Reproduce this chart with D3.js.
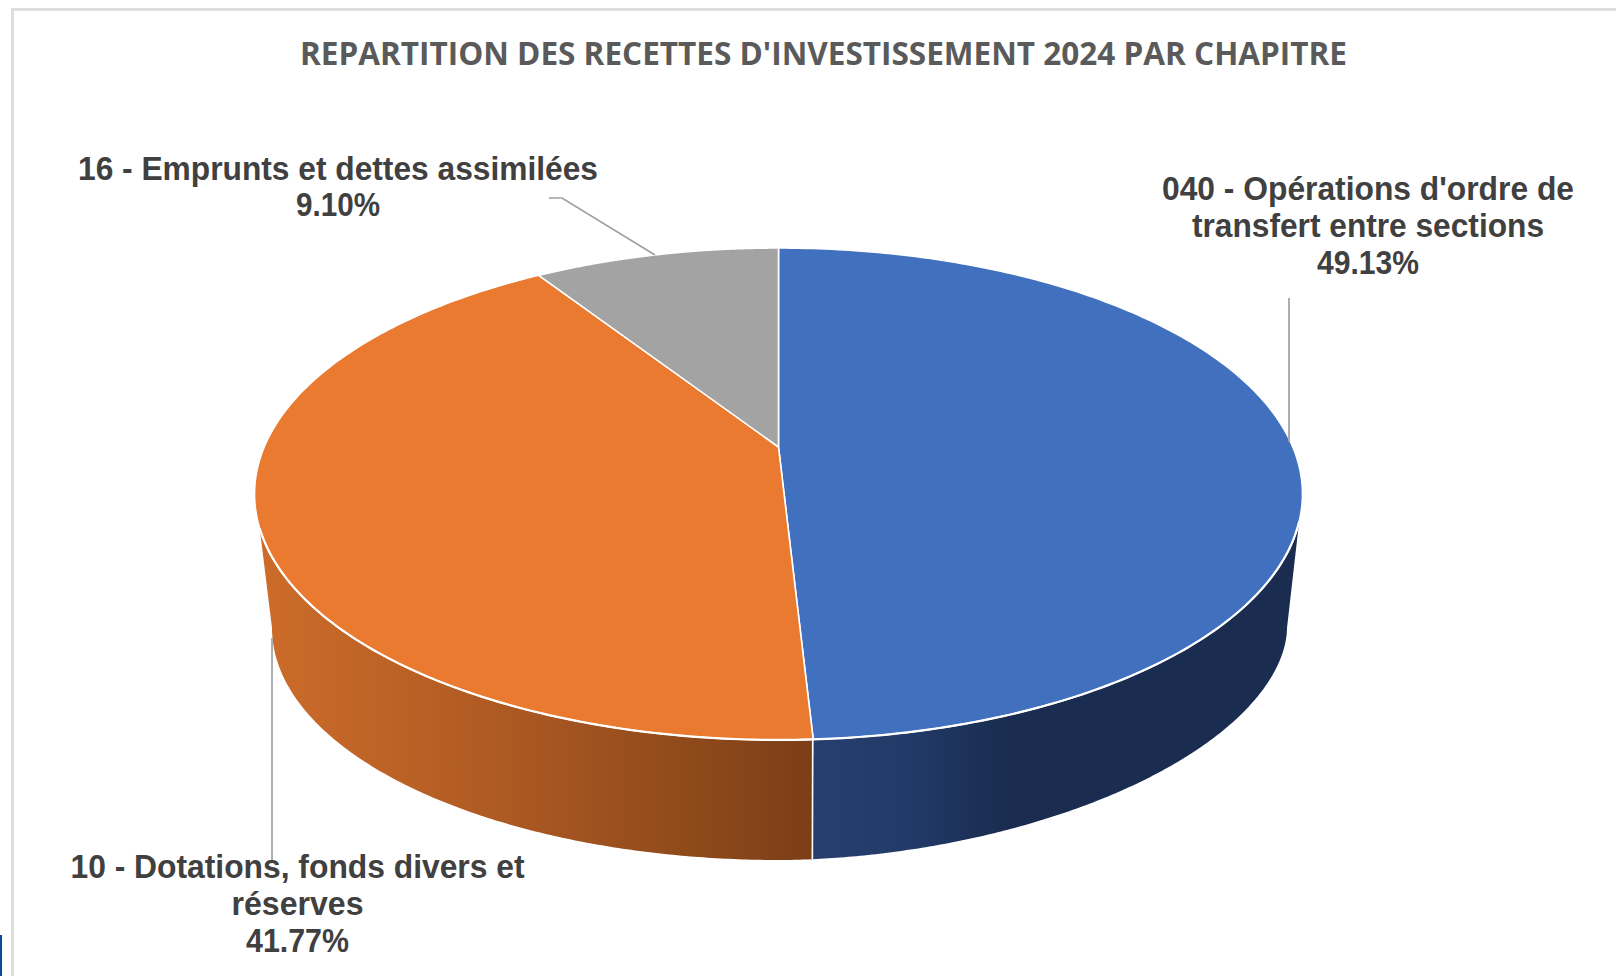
<!DOCTYPE html>
<html><head><meta charset="utf-8">
<script src="https://cdn.jsdelivr.net/npm/d3@7"></script>
<style>html,body{margin:0;padding:0;background:#fff;overflow:hidden}svg{display:block}</style>
</head><body><div id="c"></div>
<script>
const titleText = "REPARTITION DES RECETTES D'INVESTISSEMENT 2024 PAR CHAPITRE";
const categories = ["040 - Opérations d'ordre de transfert entre sections","10 - Dotations, fonds divers et réserves","16 - Emprunts et dettes assimilées"];
const values = [49.13,41.77,9.10];
const valueLabels = ["49.13%","41.77%","9.10%"];
const topColors = ["#4170BE","#E97A2F","#A3A3A3"];

const W=1616,H=976;
const svg=d3.select("#c").append("svg").attr("width",W).attr("height",H);
const defs=svg.append("defs");

// page furniture
svg.append("rect").attr("x",0).attr("y",935).attr("width",2).attr("height",41).attr("fill","#0A4A94");
svg.append("path").attr("d",`M${W},9.5 H12.5 V${H}`).attr("fill","none").attr("stroke","#DEDEDE").attr("stroke-width",3);

// perspective projection of the pie's two discs
function projector(cx,R,A,B,c){
  return (th)=>{const u=Math.sin(th),v=-Math.cos(th),d=1+c*v;return [cx+R*u/d,(A+B*v)/d];};
}
const topP=projector(778.5,514.3,447,151.6,-0.191);
const botBase=projector(779.5,500.1,588.6,125.2,-0.17);
// the lower right of the reference's base is slightly flatter than an ellipse
const botP=(th)=>{
  const [x,y]=botBase(th);
  if(x<=779.5||y<=628) return [x,y];
  const a=(x-779.5)/507.5,b=(y-628)/232,p=1.85;
  const r=1/Math.pow(Math.pow(a,p)+Math.pow(b,p),1/p);
  return [779.5+a*r*507.5,628+b*r*232];
};

const arcs=d3.pie().sort(null).value(d=>d)(values);
const samples=(a,b)=>d3.range(0,201).map(i=>a+(b-a)*i/200);
const line=d3.line();

// visible side: silhouette angles
const thTopR=Math.PI-Math.acos(0.296), thBotR=Math.PI-Math.acos(0.17);
const thTopL=Math.PI+Math.acos(0.322), thBotL=Math.PI+Math.acos(0.17);
const seam=arcs[0].endAngle;

const gBlue=defs.append("linearGradient").attr("id","gs0").attr("gradientUnits","userSpaceOnUse").attr("x1",812).attr("x2",1300).attr("y1",0).attr("y2",0);
[[0,"#263F6E"],[0.2,"#213A67"],[0.4,"#1A2C50"],[1,"#1A2C50"]].forEach(s=>gBlue.append("stop").attr("offset",s[0]).attr("stop-color",s[1]));
const gOr=defs.append("linearGradient").attr("id","gs1").attr("gradientUnits","userSpaceOnUse").attr("x1",258).attr("x2",812).attr("y1",0).attr("y2",0);
[[0,"#CC6C2A"],[0.25,"#BC6226"],[0.5,"#A85722"],[0.75,"#914B1A"],[1,"#7C3E18"]].forEach(s=>gOr.append("stop").attr("offset",s[0]).attr("stop-color",s[1]));

const sideG=svg.append("g");
sideG.append("path").attr("fill","url(#gs0)")
  .attr("d",line([...samples(seam,thTopR).map(topP),...samples(thBotR,seam).map(botP)])+"Z");
sideG.append("path").attr("fill","url(#gs1)")
  .attr("d",line([...samples(seam,thTopL).map(topP),...samples(thBotL,seam).map(botP)])+"Z");
// seam between the two visible side walls
sideG.append("line").attr("x1",topP(seam)[0]-0.5).attr("y1",topP(seam)[1]).attr("x2",botP(seam)[0]).attr("y2",botP(seam)[1])
  .attr("stroke","#fff").attr("stroke-width",1.6);

// top faces
const apex=[778.5,447];
svg.append("g").selectAll("path").data(arcs).join("path")
  .attr("fill",(d,i)=>topColors[i])
  .attr("stroke","#fff").attr("stroke-width",1.6).attr("stroke-linejoin","round")
  .attr("d",d=>line([apex,...samples(d.startAngle,d.endAngle).map(topP)])+"Z");
// brighter rim along the front edge
svg.append("path").attr("fill","none").attr("stroke","#fff").attr("stroke-width",2.2)
  .attr("d",line(samples(thTopR,thTopL).map(topP)));

// leaders
const leaders=[[[1289,298],[1289,442]],[[272,638],[272,862]],[[549,198],[562,198],[655,255]]];
svg.append("g").selectAll("path").data(leaders).join("path")
  .attr("d",d=>line(d)).attr("fill","none").attr("stroke","#A0A0A0").attr("stroke-width",1.7);

// title
svg.append("text").text(titleText).attr("x",823.5).attr("y",65).attr("text-anchor","middle")
  .attr("font-family","'Open Sans',sans-serif").attr("font-weight",700).attr("font-size",32)
  .attr("fill","#5A5A5A").attr("textLength",1047).attr("lengthAdjust","spacingAndGlyphs");

// data labels
const labelLines=[
 {cx:1368,y:[200,237,274],w:[412,352,102],t:["040 - Opérations d'ordre de","transfert entre sections",valueLabels[0]]},
 {cx:297.5,y:[877.5,914.5,951.5],w:[454,132,103],t:["10 - Dotations, fonds divers et","réserves",valueLabels[1]]},
 {cx:338,y:[179.5,216],w:[520,84],t:[categories[2],valueLabels[2]]}
];
const lg=svg.append("g").attr("font-family","'Liberation Sans',Arial,sans-serif").attr("font-weight",700).attr("font-size",33).attr("fill","#404040").attr("text-anchor","middle");
labelLines.forEach(l=>l.t.forEach((s,i)=>{
  lg.append("text").text(s).attr("x",l.cx).attr("y",l.y[i]).attr("textLength",l.w[i]).attr("lengthAdjust","spacingAndGlyphs");
}));
</script></body></html>
